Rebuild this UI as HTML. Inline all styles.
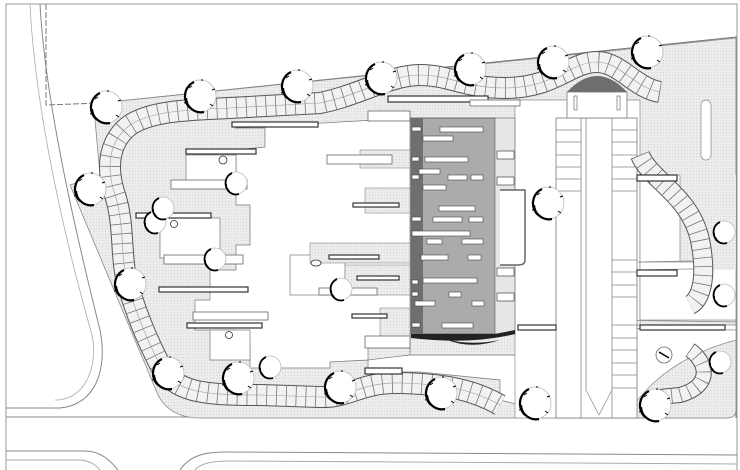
<!DOCTYPE html>
<html><head><meta charset="utf-8"><style>
html,body{margin:0;padding:0;background:#fff;}
svg{display:block;}
</style></head><body>
<svg width="740" height="470" viewBox="0 0 740 470" xmlns="http://www.w3.org/2000/svg">
<defs>
<pattern id="dots" width="3" height="3" patternUnits="userSpaceOnUse">
<rect width="3" height="3" fill="#ececec"/><rect width="1" height="1" fill="#d4d4d4"/>
</pattern>
<g id="tree">
<circle r="16" fill="#fff" stroke="#bbb" stroke-width="0.8"/>
<path d="M-6,-14 A16,16 0 0 0 -10,12 M-14,2 A15,15 0 0 0 4,16" fill="none" stroke="#000" stroke-width="2.2"/>
<path d="M-8,-10 l-3,2 M-12,6 l-4,1 M12,-6 l3,-1 M10,8 l3,2 M2,-15 l0,-2" stroke="#000" stroke-width="1"/>
</g>
<g id="stree">
<circle r="11" fill="#fff" stroke="#bbb" stroke-width="0.8"/>
<path d="M-4,-10 A11,11 0 0 0 -7,8 M-10,1 A10,10 0 0 0 3,11" fill="none" stroke="#000" stroke-width="1.8"/>
</g>
</defs>
<rect width="740" height="470" fill="#fff"/>
<path d="M6,470 L6,4 L737,4 L737,470" fill="none" stroke="#999" stroke-width="1"/>
<path d="M40,4 C45,100 75,230 100,330 C108,370 95,405 60,408 L6,408" fill="none" stroke="#888" stroke-width="1"/>
<path d="M30,4 C35,110 65,240 92,335 C98,362 88,400 55,400" fill="none" stroke="#aaa" stroke-width="0.8"/>
<path d="M6,417 L570,417" stroke="#888"/>
<path d="M6,451 L85,451 C100,451 110,460 118,470" fill="none" stroke="#888"/>
<path d="M6,460 L78,460 C90,460 96,465 100,470" fill="none" stroke="#aaa"/>
<path d="M180,470 C188,458 200,452 225,452 L737,455" fill="none" stroke="#888"/>
<path d="M195,470 C200,464 210,461 230,461 L737,464" fill="none" stroke="#aaa"/>
<path d="M46,4 L46,105 L100,103" fill="none" stroke="#777" stroke-dasharray="6,2"/>
<path d="M100,103 L736,37 L736,418" fill="none" stroke="#777"/>
<path d="M95,120 L100,103 L736,38 L736,410 Q736,418 726,418 L200,418 Q170,418 158,395 L70,185 L100,175 Z" fill="url(#dots)" stroke="#888" stroke-width="0.8"/>
<path d="M235,128 L410,118 L410,340 L368,340 L368,360 L330,362 L330,368 L250,368 L250,345 L236,345 L236,330 L195,330 L195,300 L210,300 L210,270 L236,270 L236,245 L250,245 L250,205 L236,205 L236,180 L236,150 L265,147 L265,128 Z" fill="#fff" stroke="#777" stroke-width="0.7"/>
<rect x="186" y="155" width="50" height="30" fill="#fff" stroke="#777" stroke-width="0.7"/>
<rect x="160" y="218" width="60" height="40" fill="#fff" stroke="#777" stroke-width="0.7"/>
<rect x="210" y="330" width="40" height="30" fill="#fff" stroke="#777" stroke-width="0.7"/>
<rect x="290" y="255" width="55" height="40" fill="#fff" stroke="#777" stroke-width="0.7"/>
<rect x="360" y="150" width="50" height="18" fill="url(#dots)" stroke="#888" stroke-width="0.6"/>
<rect x="365" y="188" width="45" height="25" fill="url(#dots)" stroke="#888" stroke-width="0.6"/>
<rect x="310" y="243" width="100" height="20" fill="url(#dots)" stroke="#888" stroke-width="0.6"/>
<rect x="345" y="265" width="65" height="30" fill="url(#dots)" stroke="#888" stroke-width="0.6"/>
<rect x="380" y="308" width="30" height="30" fill="url(#dots)" stroke="#888" stroke-width="0.6"/>
<path d="M410,335 L410,355 L555,355 Q575,355 580,375 L580,410 L540,410 L500,400 L500,380 L420,372 L368,372 L368,360 L410,355" fill="#fff" stroke="#777" stroke-width="0.7"/>
<rect x="515" y="100" width="125" height="318" fill="#fff" stroke="#888" stroke-width="0.7"/>
<rect x="640" y="175" width="40" height="90" fill="#fff" stroke="#888" stroke-width="0.7"/>
<path d="M610,325 L736,325 L736,405 Q736,418 720,418 L615,418 Q610,418 610,405 Z" fill="#fff" stroke="#888" stroke-width="0.7"/>
<path d="M625,418 Q660,360 736,340 L736,410 Q736,418 726,418 Z" fill="url(#dots)" stroke="#888" stroke-width="0.7"/>
<rect x="640" y="262" width="96" height="58" fill="#fff" stroke="#888" stroke-width="0.7"/>
<path d="M638,262 L736,260 M638,270 L736,268 M610,320 L736,322 M610,328 L736,330" stroke="#888" stroke-width="0.8"/>
<path d="M680,175 C690,200 700,240 705,270 L736,270 L736,175 Z" fill="url(#dots)"/>
<rect x="556" y="118" width="81" height="300" fill="#fff" stroke="#777" stroke-width="0.8"/>
<path d="M581,118 L581,418 M586,118 L586,390 M612,118 L612,418" stroke="#888" stroke-width="0.8"/>
<g stroke="#888" stroke-width="0.7" fill="none">
<path d="M556,130 H581 M556,142 H581 M556,155 H581 M556,167 H581 M556,179 H581 M556,191 H581"/>
<path d="M612,130 H637 M612,142 H637 M612,155 H637 M612,167 H637 M612,179 H637 M612,191 H637"/>
<path d="M612,260 H637 M612,272 H637 M612,285 H637 M612,297 H637"/>
<path d="M612,325 H637 M612,338 H637 M612,350 H637 M612,363 H637 M612,375 H637 M612,388 H637"/>
<path d="M586,390 L599,415 L612,390"/>
</g>
<rect x="567" y="92" width="60" height="26" fill="#fff" stroke="#777" stroke-width="0.8"/>
<path d="M567,92 Q597,60 627,92 Z" fill="#6e6e6e"/>
<rect x="574" y="96" width="3" height="14" fill="#fff" stroke="#555" stroke-width="0.6"/>
<rect x="617" y="96" width="3" height="14" fill="#fff" stroke="#555" stroke-width="0.6"/>
<rect x="701" y="100" width="10" height="60" rx="5" fill="#fff" stroke="#888" stroke-width="0.7"/>
<g fill="none" stroke-linecap="round" stroke-linejoin="round">
<path id="p1" d="M660,92 C635,88 620,62 597,62 C570,62 555,88 505,88 C465,88 450,75 420,75 C390,75 360,95 320,103 L230,108 C180,110 150,112 130,125 C110,140 105,165 115,195 C125,225 120,260 128,285 C138,320 150,345 160,365 C175,392 200,395 260,395 L320,397 C350,398 360,382 400,383 C440,384 470,388 500,405"/>
<path id="p2" d="M690,350 C705,360 715,385 680,395 L650,398"/>
<path id="p3" d="M640,155 C650,180 690,195 700,240 C708,280 700,300 690,305"/>
</g>
<use href="#p1" stroke="#555" stroke-width="22" fill="none"/>
<use href="#p1" stroke="#f2f2f2" stroke-width="20" fill="none"/>
<use href="#p1" stroke="#777" stroke-width="20" fill="none" stroke-dasharray="0.8,9"/>
<use href="#p1" stroke="#999" stroke-width="0.6" fill="none"/>
<use href="#p2" stroke="#555" stroke-width="16" fill="none"/>
<use href="#p2" stroke="#f2f2f2" stroke-width="14" fill="none"/>
<use href="#p2" stroke="#777" stroke-width="14" fill="none" stroke-dasharray="0.8,8"/>
<use href="#p3" stroke="#555" stroke-width="20" fill="none"/>
<use href="#p3" stroke="#f2f2f2" stroke-width="18" fill="none"/>
<use href="#p3" stroke="#777" stroke-width="18" fill="none" stroke-dasharray="0.8,8"/>
<g fill="#fff" stroke="#333" stroke-width="1.2">
<rect x="232" y="122" width="86" height="5"/>
<rect x="186" y="149" width="70" height="5"/>
<rect x="136" y="213" width="75" height="5"/>
<rect x="159" y="287" width="89" height="5"/>
<rect x="187" y="323" width="75" height="5"/>
<rect x="353" y="203" width="46" height="4"/>
<rect x="329" y="255" width="50" height="4"/>
<rect x="357" y="276" width="42" height="4"/>
<rect x="352" y="314" width="35" height="4"/>
<rect x="365" y="368" width="37" height="6"/>
<rect x="388" y="96" width="100" height="6"/>
<rect x="637" y="175" width="40" height="6"/>
<rect x="637" y="270" width="40" height="6"/>
<rect x="640" y="325" width="85" height="5"/>
<rect x="518" y="325" width="38" height="5"/>
</g>
<g fill="#fff" stroke="#666" stroke-width="0.8">
<rect x="171" y="180" width="76" height="9"/>
<rect x="164" y="255" width="79" height="9"/>
<rect x="193" y="312" width="75" height="8"/>
<rect x="327" y="155" width="65" height="9"/>
<rect x="368" y="111" width="42" height="10"/>
<rect x="319" y="288" width="58" height="7"/>
<rect x="365" y="336" width="45" height="12"/>
<rect x="470" y="100" width="50" height="6"/>
</g>
<rect x="411" y="118" width="84" height="216" fill="#ababab" stroke="#555" stroke-width="0.8"/>
<rect x="411" y="118" width="12" height="216" fill="#6f6f6f"/>
<rect x="495" y="118" width="20" height="216" fill="#e6e6e6" stroke="#777" stroke-width="0.7"/>
<path d="M411,334 L495,334 L515,330 L515,334 Q470,345 411,338 Z" fill="#222"/>
<path d="M445,339 Q470,346 500,340 Q470,350 445,339 Z" fill="#222"/>
<g fill="#fff" stroke="#444" stroke-width="0.6">
<rect x="440" y="127" width="43" height="5"/><rect x="423" y="136" width="30" height="5"/>
<rect x="425" y="157" width="43" height="5"/><rect x="419" y="169" width="21" height="5"/>
<rect x="448" y="175" width="19" height="5"/><rect x="471" y="175" width="12" height="5"/>
<rect x="423" y="185" width="23" height="5"/><rect x="439" y="206" width="36" height="5"/>
<rect x="433" y="217" width="29" height="5"/><rect x="469" y="217" width="14" height="5"/>
<rect x="412" y="231" width="58" height="5"/><rect x="427" y="239" width="15" height="5"/>
<rect x="462" y="239" width="21" height="5"/><rect x="421" y="255" width="27" height="5"/>
<rect x="468" y="255" width="13" height="5"/><rect x="423" y="278" width="54" height="5"/>
<rect x="449" y="292" width="12" height="5"/><rect x="415" y="301" width="20" height="5"/>
<rect x="472" y="301" width="12" height="5"/><rect x="442" y="323" width="31" height="5"/>
<rect x="412" y="127" width="9" height="4"/><rect x="412" y="157" width="7" height="4"/>
<rect x="412" y="175" width="7" height="4"/><rect x="412" y="217" width="9" height="4"/>
<rect x="412" y="280" width="6" height="4"/><rect x="412" y="292" width="6" height="4"/>
<rect x="412" y="323" width="8" height="4"/>
</g>
<g fill="#fff" stroke="#444" stroke-width="0.7">
<rect x="497" y="151" width="17" height="8"/><rect x="497" y="177" width="17" height="8"/>
<rect x="497" y="268" width="17" height="8"/><rect x="497" y="293" width="17" height="8"/>
</g>
<path d="M500,190 L525,190 L525,260 Q525,265 518,265 L500,265" fill="#fff" stroke="#666" stroke-width="1.5"/>
<g fill="#fff" stroke="#333" stroke-width="0.8">
<circle cx="223" cy="160" r="4"/><circle cx="174" cy="224" r="3.5"/><circle cx="229" cy="335" r="3.5"/>
<circle cx="664" cy="355" r="8" stroke="#666"/><ellipse cx="316" cy="263" rx="5" ry="3"/>
</g>
<path d="M659,352 L669,358" stroke="#000" stroke-width="1.5"/>
<use href="#tree" x="106" y="107"/><use href="#tree" x="200" y="96"/><use href="#tree" x="297" y="86"/>
<use href="#tree" x="381" y="78"/><use href="#tree" x="470" y="69"/><use href="#tree" x="553" y="62"/>
<use href="#tree" x="647" y="52"/><use href="#tree" x="90" y="189"/><use href="#tree" x="130" y="284"/>
<use href="#tree" x="168" y="373"/><use href="#tree" x="238" y="378"/><use href="#tree" x="340" y="387"/>
<use href="#tree" x="441" y="393"/><use href="#tree" x="535" y="403"/><use href="#tree" x="655" y="405"/>
<use href="#tree" x="548" y="203"/>
<use href="#stree" x="724" y="232"/><use href="#stree" x="724" y="295"/><use href="#stree" x="720" y="362"/>
<use href="#stree" x="155" y="222"/><use href="#stree" x="163" y="208"/><use href="#stree" x="236" y="183"/>
<use href="#stree" x="215" y="259"/><use href="#stree" x="341" y="289"/><use href="#stree" x="270" y="367"/>
</svg>
</body></html>
